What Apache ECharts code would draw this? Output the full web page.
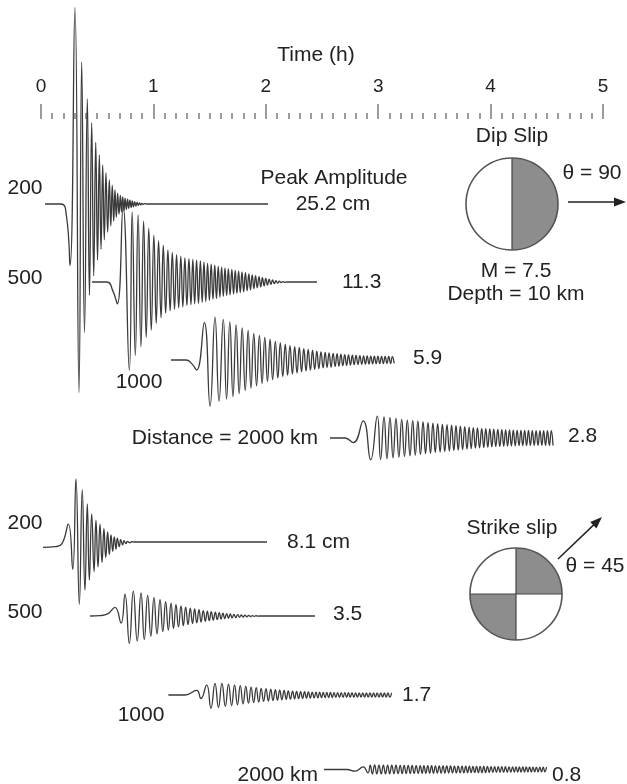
<!DOCTYPE html>
<html>
<head>
<meta charset="utf-8">
<title>Tsunami waveforms: dip slip and strike slip sources</title>
<script src="https://cdn.jsdelivr.net/npm/echarts@6/dist/echarts.min.js"></script>
<style>
  html, body { margin: 0; padding: 0; background: #fff; }
  #chart { width: 627px; height: 784px; }
</style>
</head>
<body>
<div id="chart"></div>
<script>
// Wave records: [time (h), sea-surface height (cm)] at each crest and trough.
const dip200 = [[0.036,0],[0.178,0],[0.227,-1.6],[0.258,-7.9],
  [0.302,25.2],[0.338,-24.2],[0.362,18.2],[0.387,-16.5],[0.412,13.5],[0.431,-11.7],[0.451,10.4],[0.469,-9.2],
  [0.487,7.9],[0.503,-7.2],[0.519,6.3],[0.534,-5.8],[0.549,5.0],[0.563,-4.6],[0.578,4.0],[0.593,-3.6],
  [0.608,3.1],[0.621,-2.8],[0.634,2.4],[0.647,-2.2],[0.658,1.8],[0.670,-1.7],[0.682,1.4],[0.694,-1.3],
  [0.706,1.1],[0.716,-1.0],[0.727,0.9],[0.738,-0.85],[0.748,0.75],[0.759,-0.7],[0.770,0.62],[0.780,-0.56],
  [0.791,0.5],[0.802,-0.45],[0.812,0.4],[0.823,-0.35],[0.834,0.3],[0.844,-0.26],[0.855,0.22],[0.866,-0.18],
  [0.876,0.15],[0.887,-0.12],[0.898,0.09],[0.908,-0.06],[0.919,0.04],[0.94,0],[2.02,0]];

const dip500 = [[0.454,0],[0.587,0],[0.641,-1.2],[0.679,-2.8],[0.730,9.6],[0.786,-11.3],
  [0.811,9.0],[0.839,-9.4],[0.864,8.6],[0.889,-8.3],[0.913,7.8],[0.936,-7.1],[0.959,6.9],[0.981,-6.2],
  [1.004,6.0],[1.025,-5.3],[1.046,5.3],[1.068,-4.6],[1.088,4.7],[1.109,-4.0],[1.129,4.1],[1.149,-3.7],
  [1.168,3.8],[1.188,-3.5],[1.206,3.5],[1.225,-3.3],[1.244,3.3],[1.262,-3.2],[1.280,3.1],[1.298,-3.0],
  [1.316,3.0],[1.334,-2.9],[1.351,2.9],[1.367,-2.8],[1.384,2.8],[1.401,-2.75],[1.418,2.7],[1.434,-2.6],
  [1.450,2.55],[1.466,-2.5],[1.482,2.4],[1.498,-2.35],[1.514,2.3],[1.530,-2.2],[1.546,2.15],[1.561,-2.1],
  [1.577,2.0],[1.592,-1.95],[1.607,1.9],[1.622,-1.85],[1.637,1.8],[1.652,-1.75],[1.667,1.7],[1.682,-1.65],
  [1.698,1.6],[1.713,-1.55],[1.728,1.5],[1.743,-1.45],[1.758,1.4],[1.773,-1.35],[1.788,1.3],[1.803,-1.25],
  [1.819,1.2],[1.834,-1.12],[1.849,1.05],[1.864,-1.0],[1.879,0.92],[1.894,-0.86],[1.909,0.8],[1.924,-0.74],
  [1.940,0.68],[1.955,-0.62],[1.970,0.56],[1.985,-0.5],[2.000,0.45],[2.015,-0.4],[2.030,0.35],[2.045,-0.3],
  [2.060,0.26],[2.076,-0.22],[2.091,0.18],[2.106,-0.14],[2.121,0.11],[2.136,-0.08],[2.151,0.05],[2.166,-0.03],
  [2.189,0],[2.455,0]];

const dip1000 = [[1.157,0],[1.290,0],[1.343,-0.5],[1.385,-1.3],[1.453,4.8],[1.504,-5.9],[1.548,5.5],[1.584,-5.3],
  [1.622,5.2],[1.651,-5.0],[1.680,4.9],[1.708,-4.7],[1.736,4.5],[1.763,-4.3],[1.790,4.1],[1.817,-3.9],
  [1.843,3.8],[1.868,-3.6],[1.893,3.4],[1.918,-3.3],[1.943,3.15],[1.967,-3.0],[1.991,2.9],[2.015,-2.75],
  [2.038,2.65],[2.061,-2.5],[2.085,2.4],[2.107,-2.3],[2.129,2.2],[2.151,-2.1],[2.173,2.0],[2.194,-1.95],
  [2.215,1.85],[2.237,-1.8],[2.257,1.7],[2.278,-1.65],[2.298,1.6],[2.318,-1.5],[2.338,1.45],[2.358,-1.4],
  [2.377,1.35],[2.397,-1.3],[2.416,1.25],[2.435,-1.2],[2.454,1.15],[2.472,-1.1],[2.491,1.05],[2.510,-1.0],
  [2.528,0.98],[2.545,-0.95],[2.563,0.92],[2.581,-0.9],[2.599,0.86],[2.617,-0.83],[2.634,0.8],[2.651,-0.78],
  [2.668,0.75],[2.685,-0.73],[2.702,0.7],[2.719,-0.68],[2.736,0.66],[2.753,-0.64],[2.770,0.62],[2.786,-0.6],
  [2.803,0.58],[2.820,-0.57],[2.837,0.56],[2.854,-0.55],[2.870,0.54],[2.886,-0.53],[2.902,0.52],[2.918,-0.51],
  [2.934,0.5],[2.950,-0.5],[2.966,0.49],[2.982,-0.48],[2.998,0.48],[3.014,-0.47],[3.030,0.47],[3.046,-0.46],
  [3.062,0.46],[3.078,-0.45],[3.094,0.45],[3.110,-0.45],[3.126,0.44],[3.142,-0.44]];

const dip2000 = [[2.571,0],[2.705,0],[2.778,-0.6],[2.867,2.2],[2.933,-2.8],[2.992,2.8],
  [3.021,-2.75],[3.052,2.7],[3.078,-2.65],[3.105,2.6],[3.132,-2.55],[3.158,2.5],[3.184,-2.45],[3.209,2.4],
  [3.234,-2.35],[3.259,2.3],[3.283,-2.27],[3.307,2.23],[3.330,-2.2],[3.353,2.15],[3.376,-2.1],[3.399,2.05],
  [3.421,-2.0],[3.443,1.97],[3.465,-1.94],[3.487,1.9],[3.508,-1.87],[3.529,1.84],[3.551,-1.8],[3.571,1.77],
  [3.592,-1.74],[3.612,1.7],[3.633,-1.67],[3.653,1.64],[3.673,-1.61],[3.692,1.58],[3.712,-1.55],[3.731,1.52],
  [3.751,-1.49],[3.770,1.46],[3.790,-1.43],[3.809,1.4],[3.827,-1.37],[3.846,1.34],[3.865,-1.31],[3.883,1.28],
  [3.902,-1.26],[3.921,1.24],[3.939,-1.22],[3.957,1.2],[3.975,-1.18],[3.993,1.16],[4.011,-1.14],[4.028,1.12],
  [4.046,-1.1],[4.064,1.09],[4.082,-1.08],[4.100,1.07],[4.117,-1.06],[4.134,1.05],[4.151,-1.04],[4.168,1.03],
  [4.185,-1.02],[4.202,1.01],[4.219,-1.0],[4.236,0.99],[4.253,-0.99],[4.270,0.98],[4.286,-0.98],[4.303,0.97],
  [4.320,-0.97],[4.337,0.96],[4.354,-0.96],[4.371,0.95],[4.388,-0.95],[4.405,0.95],[4.422,-0.95],[4.439,0.95],
  [4.456,-0.95],[4.472,0.95],[4.489,-0.95],[4.506,0.95],[4.523,-0.95],[4.540,0.95],[4.555,-0.95]];

const strike200 = [[0.018,-0.7],[0.125,-0.6],[0.187,-0.2],[0.243,2.3],[0.282,-3.5],[0.311,8.1],[0.341,-8.0],
  [0.367,6.7],[0.391,-6.2],[0.412,4.9],[0.430,-4.9],[0.451,3.6],[0.472,-3.8],[0.489,2.8],[0.507,-3.2],
  [0.525,2.3],[0.543,-2.6],[0.560,1.7],[0.576,-2.0],[0.593,1.3],[0.608,-1.6],[0.623,0.9],[0.638,-1.2],
  [0.652,0.65],[0.667,-0.9],[0.679,0.5],[0.697,-0.6],[0.709,0.3],[0.727,-0.38],[0.738,0.17],[0.756,-0.22],
  [0.768,0.09],[0.792,-0.09],[0.807,0.03],[0.827,0],[2.011,0]];

const strike500 = [[0.436,0],[0.525,0.05],[0.596,0.3],[0.658,1.1],[0.712,-0.9],[0.747,2.8],[0.786,-3.5],
  [0.821,3.2],[0.856,-3.2],[0.890,2.95],[0.919,-3.0],[0.949,2.65],[0.977,-2.6],[1.005,2.35],[1.032,-2.3],
  [1.059,2.1],[1.084,-2.0],[1.109,1.85],[1.133,-1.8],[1.157,1.65],[1.179,-1.6],[1.201,1.45],[1.223,-1.4],
  [1.246,1.3],[1.266,-1.25],[1.287,1.15],[1.308,-1.1],[1.328,1.0],[1.348,-0.97],[1.367,0.9],[1.386,-0.87],
  [1.406,0.8],[1.424,-0.77],[1.444,0.7],[1.462,-0.68],[1.480,0.62],[1.497,-0.6],[1.515,0.55],[1.533,-0.53],
  [1.551,0.48],[1.568,-0.46],[1.586,0.42],[1.602,-0.4],[1.619,0.36],[1.635,-0.34],[1.652,0.3],[1.668,-0.29],
  [1.684,0.26],[1.700,-0.25],[1.717,0.22],[1.733,-0.2],[1.750,0.18],[1.766,-0.16],[1.782,0.14],[1.798,-0.13],
  [1.815,0.11],[1.831,-0.1],[1.848,0.08],[1.864,-0.07],[1.880,0.05],[1.896,-0.04],[1.913,0.03],[1.929,-0.02],
  [1.948,0],[2.438,0]];

const strike1000 = [[1.133,0],[1.281,0],[1.385,0.6],[1.423,-0.45],[1.474,1.3],[1.512,-1.7],[1.548,1.5],
  [1.579,-1.6],[1.610,1.5],[1.640,-1.45],[1.668,1.4],[1.696,-1.35],[1.722,1.3],[1.748,-1.25],[1.773,1.2],
  [1.798,-1.15],[1.822,1.1],[1.846,-1.05],[1.869,1.0],[1.892,-0.97],[1.915,0.93],[1.937,-0.9],[1.959,0.86],
  [1.980,-0.83],[2.002,0.8],[2.023,-0.77],[2.044,0.74],[2.064,-0.71],[2.085,0.68],[2.104,-0.66],[2.124,0.63],
  [2.143,-0.61],[2.163,0.58],[2.182,-0.56],[2.200,0.54],[2.219,-0.52],[2.238,0.5],[2.256,-0.49],[2.274,0.47],
  [2.292,-0.46],[2.310,0.44],[2.327,-0.43],[2.345,0.42],[2.362,-0.41],[2.379,0.4],[2.396,-0.39],[2.413,0.38],
  [2.430,-0.37],[2.447,0.36],[2.463,-0.36],[2.479,0.35],[2.495,-0.35],[2.511,0.34],[2.527,-0.34],[2.543,0.33],
  [2.559,-0.33],[2.575,0.32],[2.591,-0.32],[2.607,0.31],[2.623,-0.31],[2.639,0.31],[2.655,-0.3],[2.671,0.3],
  [2.687,-0.3],[2.703,0.3],[2.719,-0.29],[2.735,0.29],[2.751,-0.29],[2.767,0.29],[2.783,-0.29],[2.799,0.28],
  [2.815,-0.28],[2.831,0.28],[2.847,-0.28],[2.863,0.28],[2.879,-0.28],[2.895,0.28],[2.911,-0.28],[2.927,0.28],
  [2.943,-0.28],[2.959,0.28],[2.975,-0.28],[2.991,0.28],[3.007,-0.28],[3.023,0.28],[3.039,-0.28],[3.055,0.28],
  [3.071,-0.28],[3.087,0.28],[3.103,-0.28],[3.119,0.28]];

const strike2000 = [[2.518,0],[2.722,0],[2.794,-0.3],[2.867,0.45],[2.909,-0.6],[2.929,0.75],[2.948,-0.8],
  [2.968,0.8],[2.988,-0.79],[3.007,0.79],[3.027,-0.78],[3.046,0.78],[3.065,-0.77],[3.084,0.77],[3.102,-0.76],
  [3.121,0.76],[3.140,-0.75],[3.158,0.75],[3.177,-0.74],[3.196,0.74],[3.213,-0.73],[3.231,0.73],[3.249,-0.72],
  [3.267,0.72],[3.285,-0.71],[3.302,0.71],[3.320,-0.7],[3.338,0.7],[3.356,-0.69],[3.374,0.69],[3.391,-0.68],
  [3.407,0.68],[3.424,-0.67],[3.441,0.67],[3.458,-0.66],[3.475,0.66],[3.492,-0.66],[3.509,0.65],[3.526,-0.65],
  [3.543,0.64],[3.560,-0.64],[3.577,0.63],[3.593,-0.63],[3.610,0.63],[3.627,-0.62],[3.644,0.62],[3.661,-0.61],
  [3.678,0.61],[3.695,-0.61],[3.712,0.6],[3.729,-0.6],[3.746,0.59],[3.762,-0.59],[3.779,0.58],[3.795,-0.58],
  [3.811,0.58],[3.827,-0.57],[3.843,0.57],[3.859,-0.56],[3.875,0.56],[3.891,-0.56],[3.907,0.55],[3.923,-0.55],
  [3.939,0.54],[3.955,-0.54],[3.972,0.53],[3.988,-0.53],[4.004,0.52],[4.020,-0.52],[4.036,0.51],[4.052,-0.51],
  [4.068,0.51],[4.084,-0.5],[4.100,0.5],[4.116,-0.5],[4.132,0.49],[4.148,-0.49],[4.164,0.48],[4.180,-0.48],
  [4.196,0.48],[4.211,-0.47],[4.226,0.47],[4.241,-0.47],[4.256,0.46],[4.271,-0.46],[4.287,0.45],[4.302,-0.45],
  [4.317,0.45],[4.332,-0.44],[4.347,0.44],[4.362,-0.44],[4.377,0.43],[4.392,-0.43],[4.407,0.43],[4.423,-0.42],
  [4.438,0.42],[4.453,-0.42],[4.468,0.41],[4.483,-0.41],[4.498,0.4]];

const timeRange = [0, 5];          // hours
const distancesKm = [200, 500, 1000, 2000];

// ---- layout ----
const FONT = '"Liberation Sans", Arial, Helvetica, sans-serif';
const PX_PER_CM = 7.8;             // common vertical scale for every trace
const HALF = 20;                   // strip half-height in px (lines are not clipped)
const LEFT = 41, RIGHT = 24, AXIS_Y = 118;

// one strip per record: baseline y, distance label, amplitude label
const strips = [
  { data: dip200,     base: 204, dist: { t: String(distancesKm[0]), x: 25,  y: 188, align: 'center' },
    amp: { x: 333, y: 204, align: 'center', unit: ' cm' } },
  { data: dip500,     base: 282, dist: { t: String(distancesKm[1]), x: 25,  y: 278, align: 'center' },
    amp: { x: 342, y: 282, align: 'left' } },
  { data: dip1000,    base: 360, dist: { t: String(distancesKm[2]), x: 139, y: 382, align: 'center' },
    amp: { x: 413, y: 358, align: 'left' } },
  { data: dip2000,    base: 438, dist: { t: 'Distance = ' + distancesKm[3] + ' km', x: 318, y: 438, align: 'right' },
    amp: { x: 568, y: 436, align: 'left' } },
  { data: strike200,  base: 542, dist: { t: String(distancesKm[0]), x: 25,  y: 523, align: 'center' },
    amp: { x: 287, y: 542, align: 'left', unit: ' cm' } },
  { data: strike500,  base: 616, dist: { t: String(distancesKm[1]), x: 25,  y: 612, align: 'center' },
    amp: { x: 333, y: 614, align: 'left' } },
  { data: strike1000, base: 695, dist: { t: String(distancesKm[2]), x: 141, y: 715, align: 'center' },
    amp: { x: 402, y: 695, align: 'left' } },
  { data: strike2000, base: 775, dist: { t: distancesKm[3] + ' km', x: 318, y: 775, align: 'right' },
    amp: { x: 552, y: 775, align: 'left' } }
];

const peakOf = d => Math.max(...d.map(p => Math.abs(p[1])));

function text(t, x, y, align, size) {
  return {
    type: 'text', x: x, y: y, z: 10,
    style: { text: t, fill: '#222', font: (size || 21) + 'px ' + FONT,
             align: align || 'center', verticalAlign: 'middle' }
  };
}

function arrow(x1, y1, x2, y2) {
  const len = Math.hypot(x2 - x1, y2 - y1);
  const ux = (x2 - x1) / len, uy = (y2 - y1) / len;
  const hl = 12, hw = 4.5;
  const bx = x2 - ux * hl, by = y2 - uy * hl;
  return [
    { type: 'line', z: 10, shape: { x1: x1, y1: y1, x2: bx + ux * 2, y2: by + uy * 2 },
      style: { stroke: '#222', lineWidth: 1.5 } },
    { type: 'polygon', z: 10,
      shape: { points: [[x2, y2], [bx - uy * hw, by + ux * hw], [bx + uy * hw, by - ux * hw]] },
      style: { fill: '#222' } }
  ];
}

// focal mechanism: white disc, shaded sectors, nodal lines, outline
function beachball(cx, cy, r, shaded, lines) {
  const els = [{ type: 'circle', z: 10, shape: { cx: cx, cy: cy, r: r }, style: { fill: '#fff' } }];
  shaded.forEach(a => els.push({
    type: 'sector', z: 10,
    shape: { cx: cx, cy: cy, r: r, r0: 0, startAngle: a[0], endAngle: a[1], clockwise: true },
    style: { fill: '#8d8d8d' }
  }));
  lines.forEach(l => els.push({
    type: 'line', z: 11,
    shape: { x1: cx + l[0] * r, y1: cy + l[1] * r, x2: cx + l[2] * r, y2: cy + l[3] * r },
    style: { stroke: '#444', lineWidth: 1.2 }
  }));
  els.push({ type: 'circle', z: 11, shape: { cx: cx, cy: cy, r: r },
             style: { fill: 'none', stroke: '#555', lineWidth: 1.6 } });
  return els;
}

const grids = [{ left: LEFT, right: RIGHT, top: AXIS_Y, height: 1 }];
const xAxes = [{
  gridIndex: 0, type: 'value', position: 'top', min: timeRange[0], max: timeRange[1], interval: 1,
  axisLine: { show: false },
  axisTick: { show: true, length: 15, lineStyle: { color: '#7c7c7c', width: 1.5 } },
  minorTick: { show: true, splitNumber: 10, length: 6, lineStyle: { color: '#7c7c7c', width: 1.5 } },
  axisLabel: { fontSize: 19, color: '#222', fontFamily: FONT, margin: 22 },
  splitLine: { show: false }
}];
const yAxes = [{ gridIndex: 0, type: 'value', show: false }];
const series = [];

strips.forEach((s, i) => {
  const gi = i + 1;
  grids.push({ left: LEFT, right: RIGHT, top: s.base - HALF, height: 2 * HALF });
  xAxes.push({ gridIndex: gi, type: 'value', min: timeRange[0], max: timeRange[1], show: false });
  yAxes.push({ gridIndex: gi, type: 'value', min: -HALF / PX_PER_CM, max: HALF / PX_PER_CM, show: false });
  series.push({
    type: 'line', xAxisIndex: gi, yAxisIndex: gi, data: s.data,
    showSymbol: false, symbol: 'none', smooth: 0.5, clip: false, silent: true,
    lineStyle: { color: '#3a3a3a', width: 1.3 }
  });
});

const graphics = [text('Time (h)', 316, 55, 'center')];
strips.forEach(s => {
  graphics.push(text(s.dist.t, s.dist.x, s.dist.y, s.dist.align));
  graphics.push(text(peakOf(s.data).toFixed(1) + (s.amp.unit || ''), s.amp.x, s.amp.y, s.amp.align));
});
graphics.push(text('Peak Amplitude', 334, 178, 'center'));
graphics.push(text('Dip Slip', 512, 136, 'center'));
graphics.push(text('M = 7.5', 516, 271, 'center'));
graphics.push(text('Depth = 10 km', 516, 294, 'center'));
graphics.push(text('\u03B8 = 90', 592, 173, 'center'));
graphics.push(text('Strike slip', 512, 528, 'center'));
graphics.push(text('\u03B8 = 45', 595, 566, 'center'));
beachball(512, 204, 46, [[-Math.PI / 2, Math.PI / 2]], [[0, -1, 0, 1]]).forEach(e => graphics.push(e));
beachball(516, 594, 46, [[-Math.PI / 2, 0], [Math.PI / 2, Math.PI]], [[0, -1, 0, 1], [-1, 0, 1, 0]])
  .forEach(e => graphics.push(e));
arrow(568, 202, 626, 202).forEach(e => graphics.push(e));
arrow(558, 559, 602, 517).forEach(e => graphics.push(e));

const chart = echarts.init(document.getElementById('chart'), null, { renderer: 'canvas' });
chart.setOption({
  animation: false,
  backgroundColor: '#fff',
  grid: grids,
  xAxis: xAxes,
  yAxis: yAxes,
  series: series,
  graphic: graphics
});
</script>
</body>
</html>
